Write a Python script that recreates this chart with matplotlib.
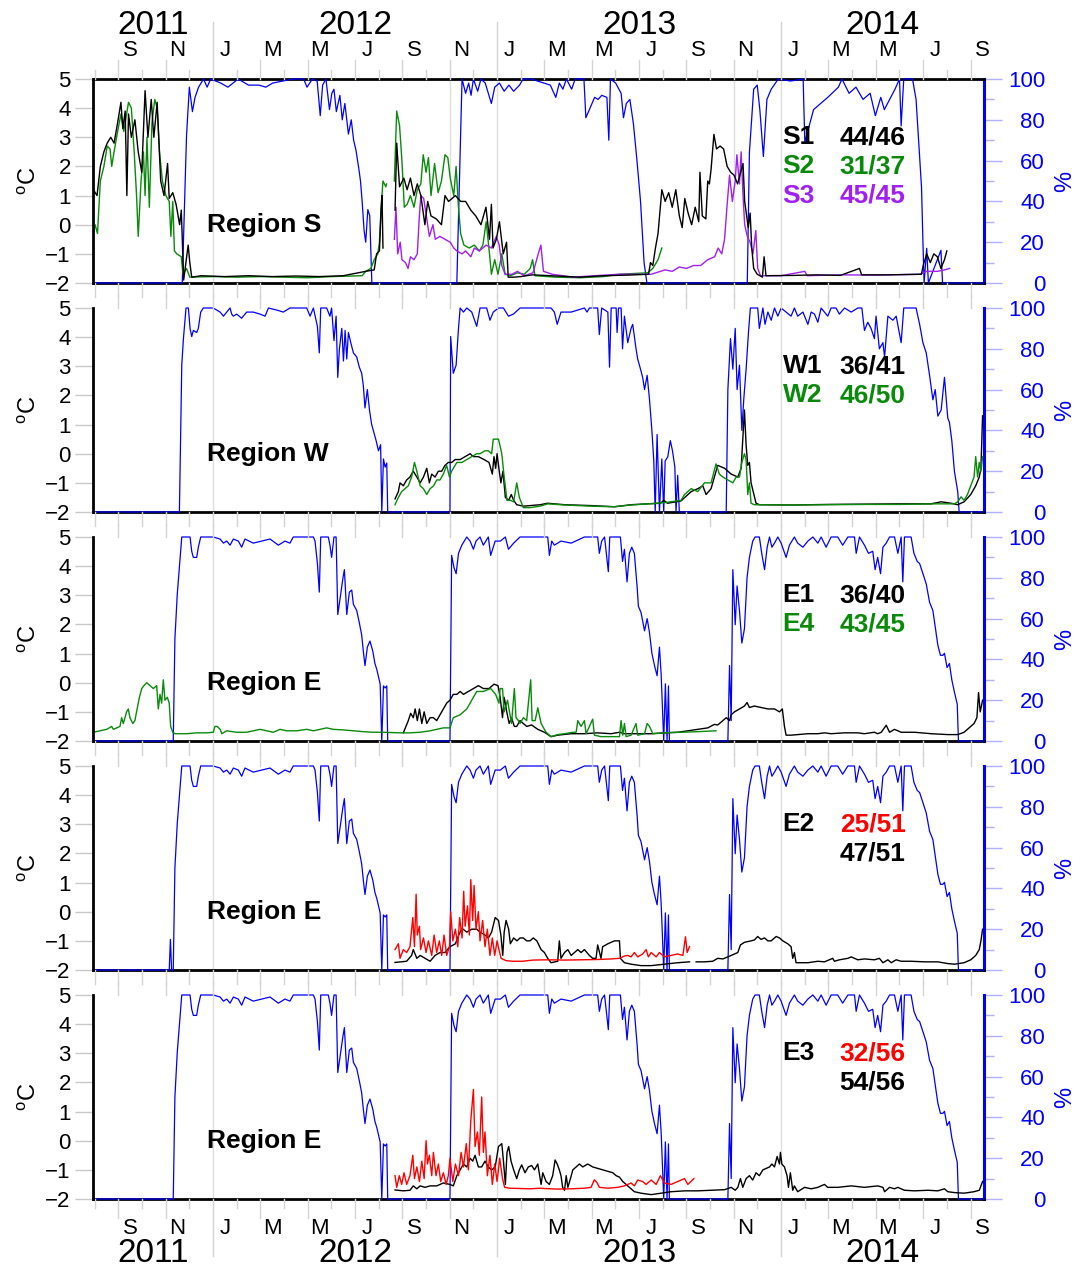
import numpy as np
import matplotlib
matplotlib.use('Agg')
import matplotlib.pyplot as plt
from matplotlib.transforms import blended_transform_factory

plt.rcParams['font.family'] = ['Liberation Sans', 'DejaVu Sans']
plt.rcParams['mathtext.fontset'] = 'custom'
plt.rcParams['mathtext.rm'] = 'Liberation Sans'

# time is in months since 1 Jan 2011 (12 = Jan 2012, 24 = Jan 2013, ...)
T_START, T_END = 6.93, 44.57
month_letters = ['J', 'F', 'M', 'A', 'M', 'J', 'J', 'A', 'S', 'O', 'N', 'D']
year_labels = ['2011', '2012', '2013', '2014']
year_centers = [9.47, 18.0, 30.0, 40.3]
nan = float('nan')

# ---- ice concentration (%) ----
ice_s = [(6.93, 0), (10.70, 0), (10.88, 72), (11.00, 96), (11.13, 84), (11.24, 91), (11.39, 96),
         (11.60, 100), (11.75, 96), (11.90, 100), (12.33, 98), (12.63, 96), (13.06, 100), (13.50, 97),
         (13.94, 97), (14.23, 96), (14.52, 98), (14.95, 99), (15.40, 100), (15.83, 100), (15.97, 96),
         (16.20, 100), (16.40, 99), (16.53, 82), (16.63, 97), (16.77, 100), (16.92, 85), (17.02, 93),
         (17.11, 95), (17.21, 84), (17.36, 92), (17.46, 80), (17.57, 88), (17.72, 73), (17.84, 80),
         (17.94, 70), (18.04, 65), (18.16, 56), (18.23, 50), (18.30, 40), (18.38, 26), (18.45, 20),
         (18.54, 36), (18.62, 33), (18.71, 0), (22.30, 0), (22.52, 100), (22.67, 93), (22.80, 98),
         (22.90, 92), (23.00, 100), (23.18, 94), (23.32, 100), (23.50, 98), (23.76, 88), (23.90, 96),
         (24.10, 98), (24.30, 94), (24.50, 97), (24.70, 94), (24.95, 97), (25.10, 100), (25.44, 100),
         (26.25, 97), (26.48, 91), (26.63, 98), (26.78, 95), (26.93, 100), (27.15, 95), (27.30, 100),
         (27.67, 100), (27.75, 81), (27.90, 85), (28.12, 91), (28.27, 90), (28.42, 92), (28.64, 91),
         (28.72, 70), (28.79, 100), (29.01, 98), (29.24, 93), (29.34, 81), (29.46, 88), (29.61, 90),
         (29.76, 78), (29.91, 60), (30.06, 40), (30.21, 10), (30.33, 0), (34.57, 0), (34.66, 64),
         (34.84, 95), (34.99, 97), (35.10, 85), (35.25, 62), (35.40, 90), (35.58, 95), (35.88, 100),
         (36.40, 99), (36.93, 100), (37.00, 69), (37.37, 85), (37.97, 91), (38.42, 96), (38.57, 100),
         (38.87, 93), (39.16, 96), (39.46, 90), (39.76, 93), (39.98, 82), (40.21, 91), (40.36, 85),
         (40.81, 95), (41.00, 100), (41.07, 77), (41.18, 100), (41.55, 100), (41.70, 90), (41.93, 47),
         (42.00, 16), (42.04, 0), (42.15, 17), (42.22, 0), (42.75, 16), (42.82, 0), (44.57, 0)]

ice_w = [(6.93, 0), (10.58, 0), (10.68, 72), (10.75, 85), (10.86, 100), (10.96, 100), (11.03, 90),
         (11.10, 86), (11.17, 89), (11.31, 88), (11.38, 90), (11.48, 98), (11.59, 100), (12.01, 100),
         (12.30, 98), (12.44, 96), (12.58, 98), (12.72, 100), (12.79, 97), (12.86, 96), (13.00, 97),
         (13.21, 95), (13.42, 98), (13.70, 98), (13.99, 97), (14.20, 96), (14.34, 100), (14.69, 99),
         (14.97, 98), (15.25, 100), (15.96, 100), (16.10, 96), (16.24, 100), (16.41, 91), (16.49, 78),
         (16.55, 100), (16.80, 100), (16.94, 96), (17.01, 100), (17.11, 84), (17.20, 96), (17.27, 66),
         (17.34, 80), (17.44, 90), (17.51, 74), (17.58, 89), (17.65, 75), (17.72, 88), (17.82, 83),
         (17.93, 78), (18.07, 76), (18.18, 71), (18.28, 68), (18.35, 62), (18.42, 51), (18.52, 60),
         (18.61, 50), (18.70, 43), (18.77, 40), (18.89, 35), (18.99, 30), (19.08, 33), (19.13, 0),
         (19.20, 26), (19.27, 22), (19.34, 24), (19.38, 0), (22.01, 0), (22.04, 86), (22.15, 68),
         (22.27, 72), (22.37, 90), (22.44, 100), (22.58, 98), (22.72, 100), (22.93, 98), (23.14, 91),
         (23.28, 100), (23.56, 100), (23.70, 94), (23.84, 98), (24.06, 100), (24.27, 100), (24.48, 96),
         (24.69, 97), (24.97, 100), (25.44, 100), (26.28, 100), (26.42, 98), (26.54, 92), (26.70, 98),
         (27.13, 98), (27.69, 100), (27.80, 98), (27.90, 100), (28.25, 100), (28.32, 87), (28.42, 100),
         (28.68, 98), (28.75, 71), (28.82, 100), (29.03, 100), (29.07, 88), (29.13, 100), (29.24, 100),
         (29.30, 80), (29.38, 96), (29.52, 83), (29.66, 90), (29.73, 92), (29.87, 80), (29.94, 75),
         (30.06, 70), (30.15, 66), (30.23, 60), (30.34, 67), (30.44, 55), (30.54, 40), (30.62, 25),
         (30.68, 0), (30.76, 38), (30.86, 0), (30.96, 26), (31.04, 0), (31.10, 25), (31.21, 27),
         (31.32, 35), (31.41, 30), (31.51, 22), (31.56, 0), (31.63, 18), (31.70, 0), (33.68, 0),
         (33.75, 60), (33.86, 85), (33.96, 70), (34.06, 90), (34.14, 60), (34.24, 72), (34.34, 40),
         (34.42, 55), (34.52, 70), (34.62, 88), (34.70, 100), (35.01, 100), (35.08, 90), (35.23, 100),
         (35.32, 92), (35.44, 98), (35.58, 94), (35.72, 100), (35.86, 96), (36.00, 100), (36.21, 98),
         (36.42, 96), (36.56, 100), (36.70, 96), (36.92, 98), (37.13, 92), (37.27, 98), (37.41, 97),
         (37.55, 93), (37.69, 100), (37.83, 98), (37.97, 96), (38.11, 100), (38.32, 100), (38.46, 97),
         (38.68, 100), (38.96, 98), (39.24, 100), (39.41, 100), (39.52, 89), (39.66, 93), (39.80, 90),
         (39.94, 85), (40.01, 96), (40.15, 80), (40.30, 83), (40.37, 76), (40.51, 96), (40.72, 94),
         (40.86, 96), (41.07, 83), (41.18, 100), (41.70, 100), (41.85, 92), (41.99, 83), (42.13, 78),
         (42.27, 67), (42.41, 55), (42.51, 60), (42.62, 47), (42.76, 50), (42.90, 66), (43.04, 46),
         (43.11, 44), (43.21, 35), (43.32, 20), (43.46, 10), (43.52, 0), (44.57, 0)]

ice_e = [(6.93, 0), (10.32, 0), (10.39, 50), (10.49, 72), (10.58, 85), (10.68, 100), (11.03, 100),
         (11.10, 93), (11.17, 90), (11.31, 90), (11.38, 95), (11.48, 100), (12.01, 100), (12.30, 99),
         (12.44, 97), (12.58, 98), (12.72, 96), (12.86, 99), (13.07, 98), (13.21, 95), (13.35, 99),
         (13.70, 97), (14.06, 98), (14.41, 99), (14.76, 96), (15.04, 98), (15.25, 97), (15.39, 100),
         (16.24, 100), (16.31, 98), (16.41, 87), (16.49, 73), (16.55, 100), (16.87, 100), (16.94, 96),
         (17.01, 90), (17.11, 100), (17.20, 100), (17.27, 62), (17.37, 70), (17.49, 80), (17.55, 84),
         (17.65, 62), (17.76, 73), (17.86, 74), (17.93, 67), (18.07, 64), (18.18, 58), (18.28, 52),
         (18.35, 44), (18.42, 37), (18.52, 46), (18.63, 49), (18.75, 44), (18.84, 38), (18.92, 35),
         (19.06, 28), (19.13, 0), (19.20, 27), (19.27, 26), (19.34, 27), (19.38, 0), (22.01, 0),
         (22.08, 91), (22.18, 85), (22.27, 82), (22.37, 92), (22.51, 96), (22.72, 100), (22.86, 98),
         (23.00, 94), (23.11, 98), (23.28, 100), (23.42, 96), (23.63, 100), (23.73, 91), (23.92, 98),
         (24.14, 98), (24.35, 100), (24.48, 94), (24.70, 97), (24.97, 100), (26.14, 100), (26.21, 91),
         (26.31, 98), (26.42, 96), (26.70, 98), (27.13, 97), (27.69, 100), (28.25, 100), (28.32, 92),
         (28.42, 98), (28.54, 100), (28.70, 83), (28.76, 100), (29.21, 100), (29.30, 88), (29.38, 94),
         (29.49, 78), (29.59, 92), (29.69, 95), (29.80, 92), (29.92, 75), (29.97, 66), (30.08, 63),
         (30.23, 54), (30.34, 60), (30.44, 53), (30.54, 43), (30.65, 37), (30.76, 32), (30.86, 46),
         (30.93, 33), (31.04, 0), (31.11, 28), (31.18, 0), (31.24, 27), (31.28, 0), (33.75, 0),
         (33.82, 37), (33.89, 10), (33.96, 84), (34.06, 57), (34.14, 76), (34.24, 64), (34.34, 48),
         (34.45, 55), (34.56, 80), (34.66, 90), (34.80, 98), (34.90, 100), (35.08, 100), (35.18, 92),
         (35.30, 84), (35.41, 95), (35.51, 100), (35.61, 95), (35.72, 97), (35.86, 100), (36.00, 97),
         (36.21, 90), (36.35, 96), (36.56, 100), (36.70, 97), (36.92, 95), (37.13, 98), (37.34, 100),
         (37.55, 97), (37.69, 100), (37.90, 95), (38.11, 100), (38.39, 100), (38.60, 96), (38.82, 100),
         (39.10, 100), (39.17, 92), (39.31, 100), (39.52, 96), (39.69, 92), (39.87, 93), (39.97, 84),
         (40.08, 90), (40.20, 82), (40.30, 95), (40.44, 97), (40.58, 100), (40.79, 100), (40.93, 92),
         (41.07, 100), (41.14, 78), (41.21, 100), (41.49, 100), (41.61, 92), (41.75, 88), (41.85, 87),
         (41.99, 82), (42.13, 77), (42.27, 68), (42.41, 64), (42.51, 56), (42.62, 47), (42.73, 42),
         (42.83, 42), (42.90, 43), (43.01, 36), (43.11, 38), (43.21, 30), (43.32, 24), (43.44, 18),
         (43.49, 0), (44.57, 0)]

# short ice blip seen only in the E2 panel
ice_e2_blip = [(10.15, 0), (10.20, 15), (10.25, 0)]

# ---- bottom temperatures (deg C) ----
s1 = [(6.95, 1.2), (7.10, 1.0), (7.24, 2.0), (7.39, 2.5), (7.53, 2.8), (7.68, 3.0), (7.82, 2.8),
      (7.97, 3.5), (8.11, 4.2), (8.19, 3.3), (8.29, 3.9), (8.36, 1.0), (8.43, 3.8), (8.55, 3.0),
      (8.70, 3.6), (8.84, 2.5), (8.99, 1.8), (9.13, 4.6), (9.25, 3.0), (9.39, 4.3), (9.50, 3.0),
      (9.64, 4.2), (9.79, 1.5), (9.93, 1.0), (10.08, 2.1), (10.15, 0.9), (10.30, 1.1), (10.44, 0.7),
      (10.59, 0.0), (10.66, 0.5), (10.76, -1.9), (10.95, -0.7), (11.02, -1.3), (11.10, -1.8),
      (11.50, -1.75), (12.50, -1.78), (13.50, -1.75), (14.50, -1.78), (15.50, -1.76), (16.50, -1.78),
      (17.50, -1.75), (18.45, -1.6), (18.81, -1.55), (18.91, -1.0), (19.03, -0.9), (19.10, 0.5),
      (19.14, 1.0), (19.18, -0.8), (19.40, nan), (19.69, 0.5), (19.76, 2.8), (19.88, 1.3), (20.06, 1.6),
      (20.20, 1.2), (20.34, 1.6), (20.49, 1.0), (20.63, 1.4), (20.78, 1.0), (20.95, 0.0), (21.07, 0.8),
      (21.21, 0.3), (21.43, 0.2), (21.65, 0.0), (21.80, 1.0), (21.95, 0.8), (22.10, 0.9), (22.24, 1.0),
      (22.46, 0.8), (22.67, 0.8), (22.89, 0.5), (23.10, 0.3), (23.32, 0.0), (23.53, 0.6), (23.68, -0.5),
      (23.76, 0.7), (23.83, -0.8), (23.97, -0.5), (24.10, 0.1), (24.26, -1.0), (24.40, -0.6),
      (24.47, -1.8), (24.70, -1.8), (25.00, -1.78), (25.50, -1.72), (26.50, -1.76), (27.50, -1.8),
      (28.50, -1.75), (29.50, -1.73), (30.40, -1.7), (30.48, -1.3), (30.58, -1.4), (30.69, -0.8),
      (30.80, -0.3), (30.96, 1.2), (31.10, 0.8), (31.25, 1.1), (31.40, 0.6), (31.55, 1.2), (31.70, 0.3),
      (31.82, -0.1), (31.93, 0.9), (32.07, 0.4), (32.22, 0.0), (32.37, 0.6), (32.52, 0.1), (32.57, 1.8),
      (32.67, 0.3), (32.82, 0.2), (32.90, 1.5), (32.97, 1.4), (33.04, 1.9), (33.16, 3.1), (33.27, 2.6),
      (33.42, 2.7), (33.57, 2.6), (33.72, 2.0), (33.87, 1.8), (34.01, 1.7), (34.16, 1.4), (34.39, 2.1),
      (34.46, 0.8), (34.61, -0.1), (34.69, 0.4), (34.76, -0.8), (34.84, -1.5), (34.99, -1.7),
      (35.21, -1.8), (35.28, -1.1), (35.36, -1.75), (36.50, -1.74), (37.50, -1.72), (38.50, -1.74),
      (39.31, -1.5), (39.40, -1.72), (40.50, -1.72), (41.93, -1.7), (42.00, -1.4), (42.15, -1.0),
      (42.30, -1.3), (42.45, -1.0), (42.60, -1.1), (42.75, -1.5), (42.90, -1.2), (43.00, -0.9)]

s2 = [(6.95, -0.3), (7.02, 0.0), (7.12, -0.3), (7.24, 1.5), (7.39, 2.0), (7.53, 2.7), (7.65, 2.6),
      (7.72, 2.0), (7.82, 2.5), (7.97, 3.2), (8.11, 3.8), (8.23, 3.2), (8.43, 4.2), (8.55, 4.0),
      (8.67, 2.5), (8.77, 1.0), (8.84, -0.4), (8.96, 1.5), (9.06, 2.5), (9.13, 1.0), (9.21, 3.0),
      (9.31, 0.6), (9.42, 3.5), (9.54, 4.3), (9.64, 4.0), (9.74, 2.5), (9.86, 1.5), (10.01, 1.0),
      (10.15, 0.8), (10.22, -0.4), (10.30, 0.8), (10.37, -0.9), (10.47, -1.0), (10.66, -1.1),
      (10.73, -1.7), (10.88, -1.5), (11.02, -1.8), (12.00, -1.78), (13.00, -1.8), (14.00, -1.78),
      (15.00, -1.8), (16.00, -1.82), (17.00, -1.78), (18.30, -1.75), (18.45, -1.6), (18.67, -1.5),
      (18.81, -1.2), (18.96, -1.0), (19.03, -0.6), (19.10, 0.6), (19.18, 1.5), (19.30, 1.3),
      (19.33, 1.4), (19.36, nan), (19.66, 1.5), (19.76, 3.9), (19.88, 3.4), (19.98, 2.2), (20.08, 0.6),
      (20.20, 0.7), (20.34, 1.0), (20.49, 0.6), (20.63, 1.2), (20.78, 1.4), (20.88, 2.4), (21.00, 1.8),
      (21.10, 2.3), (21.21, 1.0), (21.36, 2.1), (21.51, 1.1), (21.65, 1.5), (21.80, 2.4), (21.92, 2.3),
      (22.02, 1.6), (22.17, 1.0), (22.27, 2.0), (22.36, 0.7), (22.46, -0.3), (22.60, -0.7),
      (22.82, -0.8), (23.04, -0.7), (23.25, -0.9), (23.40, -0.7), (23.54, 0.1), (23.68, -1.0),
      (23.76, -1.7), (23.90, -1.2), (24.04, -1.7), (24.20, -1.0), (24.34, -1.7), (24.56, -1.75),
      (24.86, -1.65), (25.15, -1.7), (25.40, -1.5), (25.50, -1.2), (25.60, -1.75), (26.50, -1.8),
      (27.50, -1.82), (28.50, -1.78), (29.16, -1.7), (30.36, -1.65), (30.58, -1.5), (30.80, -1.2),
      (30.96, -0.8)]

s3 = [(19.66, -0.5), (19.73, 0.6), (19.80, -1.0), (19.91, -0.6), (19.98, -1.2), (20.13, -1.3),
      (20.24, -1.5), (20.34, -1.1), (20.49, -1.2), (20.63, -1.0), (20.71, 0.2), (20.78, 1.0),
      (20.90, 0.9), (21.03, 0.2), (21.14, -0.4), (21.29, 0.0), (21.39, -0.5), (21.58, -0.4),
      (21.80, -0.5), (22.02, -0.6), (22.17, -0.8), (22.30, -0.9), (22.52, -1.0), (22.67, -0.9),
      (22.89, -1.1), (23.04, -0.8), (23.25, -0.9), (23.54, -0.7), (23.76, -0.8), (23.97, -0.4),
      (24.09, -0.7), (24.20, -1.4), (24.34, -1.7), (24.63, -1.7), (24.86, -1.6), (25.15, -1.75),
      (25.52, -1.65), (25.74, -1.0), (25.85, -0.7), (25.96, -1.6), (26.33, -1.7), (27.22, -1.8),
      (28.12, -1.75), (29.16, -1.7), (30.51, -1.7), (31.10, -1.55), (31.40, -1.6), (31.70, -1.45),
      (32.00, -1.5), (32.30, -1.4), (32.60, -1.4), (32.90, -1.2), (33.19, -1.1), (33.34, -0.8),
      (33.49, -1.0), (33.61, -0.5), (33.72, 0.7), (33.82, 1.7), (33.94, 0.8), (34.06, 1.5),
      (34.13, 2.4), (34.24, 1.4), (34.31, 2.5), (34.39, 1.0), (34.46, 0.0), (34.57, -0.4),
      (34.69, -0.6), (34.81, -1.0), (34.93, -0.2), (35.01, -1.5), (35.13, -1.75), (36.00, -1.75),
      (37.00, -1.6), (37.10, -1.75), (38.50, -1.72), (40.00, -1.73), (41.85, -1.7), (42.15, -1.6),
      (42.60, -1.6), (42.90, -1.55), (43.12, -1.5)]

w1 = [(19.69, -1.55), (19.83, -1.3), (19.90, -1.0), (20.04, -1.1), (20.18, -0.9), (20.32, -0.8),
      (20.46, -0.6), (20.61, -0.8), (20.75, -1.0), (20.89, -0.8), (21.03, -0.5), (21.14, -1.0),
      (21.24, -0.7), (21.38, -0.8), (21.52, -0.6), (21.66, -0.6), (21.80, -0.4), (21.94, -0.3),
      (22.08, -0.3), (22.23, -0.2), (22.44, -0.2), (22.65, -0.1), (22.86, 0.0), (23.00, -0.1),
      (23.21, -0.1), (23.45, -0.2), (23.66, -0.3), (23.80, -0.7), (23.87, -0.1), (23.94, -0.5),
      (24.00, 0.0), (24.06, -0.4), (24.16, -1.0), (24.25, -0.6), (24.35, -1.5), (24.49, -1.6),
      (24.60, -1.4), (24.70, -1.6), (24.83, -1.75), (25.11, -1.8), (25.82, -1.75), (26.14, -1.7),
      (26.85, -1.75), (27.97, -1.78), (28.96, -1.82), (29.66, -1.75), (30.37, -1.72), (30.90, -1.7),
      (31.04, -1.6), (31.20, -1.7), (31.77, -1.62), (32.20, -1.3), (32.48, -1.2), (32.69, -1.1),
      (32.83, -1.4), (33.04, -1.2), (33.32, -0.4), (33.61, -0.5), (33.89, -0.7), (34.17, -0.8),
      (34.31, -0.5), (34.45, 1.5), (34.52, 0.3), (34.59, -0.4), (34.66, -0.3), (34.73, -1.0),
      (34.85, -1.4), (34.94, -1.7), (35.08, -1.75), (36.50, -1.76), (38.00, -1.74), (39.50, -1.73),
      (41.00, -1.72), (42.34, -1.72), (42.76, -1.65), (43.18, -1.7), (43.46, -1.75), (43.73, -1.65),
      (44.01, -1.4), (44.22, -1.1), (44.37, -0.8), (44.44, -0.5), (44.51, 1.3)]

w2 = [(19.69, -1.75), (19.83, -1.5), (19.97, -1.3), (20.11, -1.2), (20.25, -1.1), (20.39, -0.8),
      (20.51, -0.3), (20.61, -0.6), (20.75, -1.1), (20.89, -1.2), (21.03, -1.4), (21.17, -1.2),
      (21.32, -1.1), (21.45, -0.9), (21.59, -0.9), (21.73, -0.7), (21.87, -0.4), (21.99, -0.8),
      (22.08, -0.6), (22.30, -0.3), (22.51, -0.3), (22.72, -0.2), (22.93, -0.1), (23.14, 0.0),
      (23.28, 0.0), (23.49, 0.1), (23.63, 0.1), (23.77, 0.0), (23.84, 0.5), (24.06, 0.5), (24.20, 0.0),
      (24.30, -0.8), (24.42, -1.6), (24.56, -1.6), (24.70, -1.65), (24.83, -1.0), (24.94, -1.5),
      (25.11, -1.85), (25.39, -1.85), (25.82, -1.8), (26.14, -1.72), (26.85, -1.76), (27.97, -1.8),
      (28.96, -1.82), (29.66, -1.76), (30.37, -1.72), (31.07, -1.68), (31.77, -1.6), (31.92, -1.4),
      (32.20, -1.2), (32.48, -1.3), (32.76, -1.0), (33.04, -1.0), (33.25, -0.35), (33.39, -0.7),
      (33.54, -0.8), (33.75, -0.9), (33.96, -1.0), (34.10, -0.8), (34.24, -0.8), (34.34, -0.3),
      (34.45, 0.0), (34.52, -0.2), (34.59, -1.4), (34.66, -1.0), (34.73, -1.7), (34.87, -1.75),
      (36.50, -1.76), (38.00, -1.75), (39.50, -1.74), (41.00, -1.74), (42.50, -1.72), (43.32, -1.72),
      (43.46, -1.65), (43.60, -1.48), (43.73, -1.6), (43.87, -1.4), (44.01, -1.1), (44.15, -0.8),
      (44.22, -0.1), (44.30, -0.8), (44.37, -0.3), (44.44, -0.6), (44.51, -0.1)]

e1 = [(20.04, -1.72), (20.25, -1.3), (20.35, -1.05), (20.46, -1.2), (20.54, -0.9), (20.63, -1.3),
      (20.72, -0.9), (20.82, -1.4), (20.92, -1.0), (21.03, -1.4), (21.17, -1.2), (21.31, -1.2),
      (21.45, -1.3), (21.59, -1.1), (21.73, -0.9), (21.87, -0.7), (22.01, -0.6), (22.15, -0.4),
      (22.30, -0.4), (22.44, -0.3), (22.58, -0.4), (22.79, -0.3), (23.00, -0.2), (23.21, -0.1),
      (23.42, -0.2), (23.66, -0.2), (23.87, -0.05), (24.04, -0.1), (24.13, -0.5), (24.23, -1.2),
      (24.30, -0.5), (24.41, -1.0), (24.51, -1.4), (24.61, -1.2), (24.73, -1.5), (24.83, -1.5),
      (24.97, -1.3), (25.11, -1.4), (25.25, -1.5), (25.46, -1.45), (25.72, -1.6), (26.00, -1.7),
      (26.28, -1.85), (26.56, -1.8), (27.13, -1.75), (27.69, -1.75), (28.25, -1.72), (28.82, -1.75),
      (29.17, -1.7), (29.38, -1.75), (30.51, -1.75), (31.07, -1.72), (31.63, -1.7), (32.06, -1.65),
      (32.48, -1.6), (32.90, -1.55), (33.18, -1.43), (33.32, -1.45), (33.54, -1.3), (33.68, -1.2),
      (33.82, -1.3), (33.89, -1.1), (34.03, -1.0), (34.24, -0.9), (34.45, -0.8), (34.56, -0.68),
      (34.66, -0.85), (34.87, -0.8), (35.15, -0.85), (35.44, -0.9), (35.72, -0.9), (35.93, -1.0),
      (36.05, -0.9), (36.14, -1.5), (36.21, -1.8), (36.42, -1.8), (36.70, -1.78), (37.13, -1.75),
      (37.55, -1.75), (37.83, -1.72), (38.11, -1.75), (38.68, -1.72), (39.24, -1.72), (39.52, -1.75),
      (39.94, -1.7), (40.08, -1.75), (40.23, -1.7), (40.44, -1.46), (40.58, -1.7), (40.79, -1.6),
      (41.07, -1.7), (41.63, -1.7), (42.34, -1.75), (43.04, -1.78), (43.46, -1.78), (43.73, -1.7),
      (44.01, -1.5), (44.15, -1.4), (44.27, -1.2), (44.34, -0.34), (44.41, -1.0), (44.51, -0.6)]

e4 = [(6.94, -1.7), (7.23, -1.65), (7.51, -1.6), (7.72, -1.5), (7.79, -1.6), (8.07, -1.5), (8.14, -1.2),
      (8.21, -1.4), (8.35, -1.0), (8.42, -0.9), (8.49, -1.2), (8.61, -1.4), (8.70, -1.3), (8.77, -1.0),
      (8.89, -0.5), (8.99, -0.2), (9.08, -0.1), (9.20, 0.0), (9.34, -0.1), (9.48, -0.2), (9.62, -0.1),
      (9.69, -0.9), (9.76, -0.4), (9.83, -0.7), (9.90, 0.1), (9.97, -0.6), (10.07, -0.5), (10.15, -0.7),
      (10.21, -1.5), (10.30, -1.7), (10.39, -1.75), (10.89, -1.75), (11.31, -1.72), (11.73, -1.72),
      (12.01, -1.7), (12.08, -1.5), (12.18, -1.5), (12.30, -1.6), (12.37, -1.75), (12.58, -1.65),
      (13.00, -1.7), (13.42, -1.7), (13.99, -1.6), (14.27, -1.65), (14.55, -1.7), (14.83, -1.6),
      (15.11, -1.65), (15.54, -1.65), (15.96, -1.6), (16.24, -1.65), (16.52, -1.6), (16.80, -1.55),
      (17.08, -1.6), (17.51, -1.62), (17.93, -1.65), (18.35, -1.68), (18.77, -1.7), (19.20, -1.7),
      (19.90, -1.72), (20.32, -1.72), (20.75, -1.7), (21.17, -1.65), (21.45, -1.6), (21.73, -1.55),
      (22.01, -1.55), (22.15, -1.2), (22.44, -1.1), (22.72, -0.9), (22.93, -0.6), (23.14, -0.3),
      (23.42, -0.3), (23.73, -0.2), (23.94, -0.4), (24.08, -0.7), (24.13, -0.2), (24.23, -0.2),
      (24.30, -1.0), (24.44, -0.6), (24.61, -1.4), (24.73, -0.2), (24.80, -1.2), (24.90, -1.3),
      (24.97, -1.4), (25.11, -1.2), (25.25, -1.3), (25.42, 0.1), (25.48, -1.3), (25.61, -1.3),
      (25.72, -0.86), (25.86, -1.4), (26.07, -1.7), (26.28, -1.85), (26.56, -1.78), (26.85, -1.75),
      (27.20, -1.7), (27.34, -1.7), (27.41, -1.3), (27.55, -1.5), (27.69, -1.3), (27.76, -1.75),
      (28.04, -1.25), (28.11, -1.8), (28.39, -1.85), (28.82, -1.85), (29.17, -1.85), (29.24, -1.3),
      (29.31, -1.8), (29.38, -1.4), (29.45, -1.85), (29.66, -1.8), (29.87, -1.4), (29.94, -1.8),
      (30.23, -1.75), (30.34, -1.4), (30.44, -1.5), (30.58, -1.75), (31.07, -1.72), (31.77, -1.7),
      (32.48, -1.68), (33.25, -1.65)]

e2_red = [(19.69, -1.3), (19.83, -1.1), (19.90, -1.6), (20.04, -1.3), (20.18, -1.4), (20.32, -1.2),
          (20.44, -0.2), (20.51, -1.2), (20.58, 0.6), (20.63, -0.8), (20.72, -0.5), (20.77, -1.3),
          (20.89, -0.9), (21.00, -1.4), (21.10, -1.0), (21.24, -1.5), (21.34, -0.8), (21.45, -1.4),
          (21.56, -1.0), (21.66, -1.5), (21.76, -0.8), (21.87, -1.5), (21.99, -1.2), (22.04, 0.0),
          (22.13, -1.0), (22.24, -0.6), (22.34, -1.2), (22.42, -0.2), (22.52, -0.9), (22.59, 0.7),
          (22.65, -0.5), (22.75, 0.2), (22.83, -0.8), (22.89, 1.1), (22.97, -0.3), (23.03, 0.9),
          (23.11, -0.6), (23.21, 0.0), (23.28, -1.0), (23.39, -0.3), (23.49, -1.2), (23.59, -0.6),
          (23.70, -1.5), (23.80, -0.9), (23.90, -1.5), (24.00, -1.0), (24.08, -1.3), (24.17, -1.6),
          (24.38, -1.68), (24.66, -1.7), (25.08, -1.7), (25.51, -1.66), (26.14, -1.65), (26.85, -1.66),
          (27.55, -1.65), (28.25, -1.64), (28.82, -1.62), (29.17, -1.6), (29.38, -1.52), (29.52, -1.5),
          (29.66, -1.55), (29.80, -1.4), (29.94, -1.55), (30.15, -1.45), (30.30, -1.3), (30.39, -1.55),
          (30.51, -1.4), (30.72, -1.55), (30.86, -1.4), (31.07, -1.55), (31.35, -1.5), (31.63, -1.45),
          (31.85, -1.5), (31.96, -0.86), (32.03, -1.4), (32.13, -1.2)]

e2_black = [(19.69, -1.74), (20.18, -1.7), (20.39, -1.5), (20.46, -1.3), (20.61, -1.6), (20.75, -1.5),
            (20.96, -1.6), (21.17, -1.7), (21.38, -1.5), (21.59, -1.4), (21.80, -1.4), (22.01, -1.2),
            (22.24, -1.1), (22.38, -0.8), (22.52, -0.57), (22.72, -0.7), (22.93, -0.6), (23.14, -0.6),
            (23.28, -0.7), (23.49, -0.8), (23.63, -0.9), (23.77, -0.7), (23.92, -0.2), (24.06, -0.3),
            (24.16, -0.8), (24.24, -1.5), (24.30, -0.7), (24.38, -0.3), (24.49, -0.6), (24.56, -1.1),
            (24.70, -0.9), (24.84, -1.0), (24.97, -0.9), (25.11, -0.9), (25.25, -1.0), (25.39, -1.0),
            (25.53, -0.9), (25.68, -1.0), (25.80, -1.2), (25.86, -1.3), (26.00, -1.4), (26.14, -1.6),
            (26.28, -1.75), (26.56, -1.7), (26.63, -1.0), (26.70, -1.6), (26.85, -1.4), (26.99, -1.3),
            (27.13, -1.5), (27.27, -1.4), (27.41, -1.3), (27.55, -1.4), (27.69, -1.3), (27.90, -1.5),
            (28.04, -1.6), (28.18, -1.6), (28.25, -1.14), (28.39, -1.6), (28.46, -1.2), (28.68, -1.1),
            (28.96, -1.0), (29.17, -1.0), (29.21, -1.6), (29.38, -1.75), (29.66, -1.8), (30.08, -1.85),
            (30.51, -1.85), (31.07, -1.8), (31.63, -1.75), (32.13, -1.72), (32.20, nan), (32.41, -1.72),
            (32.76, -1.72), (33.11, -1.7), (33.32, -1.6), (33.54, -1.62), (33.75, -1.55), (33.89, -1.5),
            (34.03, -1.45), (34.17, -1.4), (34.28, -1.14), (34.45, -1.05), (34.73, -1.0), (34.87, -0.97),
            (35.01, -0.85), (35.15, -0.95), (35.30, -0.9), (35.44, -1.0), (35.58, -1.0), (35.79, -0.85),
            (35.93, -0.9), (36.07, -1.0), (36.28, -1.1), (36.42, -1.2), (36.49, -1.6), (36.56, -1.4),
            (36.63, -1.75), (36.85, -1.75), (37.13, -1.75), (37.55, -1.7), (37.83, -1.72), (38.18, -1.6),
            (38.25, -1.7), (38.46, -1.65), (38.82, -1.6), (38.96, -1.55), (39.24, -1.65), (39.52, -1.62),
            (39.94, -1.65), (40.15, -1.6), (40.30, -1.75), (40.51, -1.65), (40.65, -1.75), (40.86, -1.65),
            (41.07, -1.7), (41.49, -1.7), (42.06, -1.72), (42.62, -1.72), (43.04, -1.78), (43.32, -1.8),
            (43.73, -1.75), (44.01, -1.65), (44.22, -1.5), (44.37, -1.3), (44.44, -1.0), (44.51, -0.6)]

e3_red = [(19.69, -1.2), (19.76, -1.6), (19.87, -1.2), (19.97, -1.5), (20.07, -1.1), (20.18, -1.5),
          (20.32, -1.2), (20.44, -0.5), (20.51, -1.3), (20.61, -0.9), (20.72, -1.4), (20.82, -0.7),
          (20.92, -1.3), (21.00, 0.0), (21.06, -0.8), (21.14, -0.5), (21.24, -1.2), (21.31, -0.4),
          (21.42, -1.2), (21.52, -0.8), (21.62, -1.4), (21.73, -1.1), (21.85, -1.5), (21.94, -1.2),
          (22.01, -0.6), (22.13, -1.4), (22.24, -0.8), (22.37, -1.2), (22.48, -0.4), (22.58, -0.9),
          (22.70, -0.1), (22.79, -1.0), (22.89, 0.7), (23.00, 1.76), (23.07, -0.2), (23.17, 0.3),
          (23.25, -0.5), (23.35, 1.5), (23.42, -0.4), (23.49, 0.3), (23.59, -1.2), (23.70, -0.5),
          (23.80, -1.5), (23.90, -0.8), (24.00, -1.4), (24.11, -0.6), (24.23, -1.3), (24.32, -1.6),
          (24.54, -1.63), (24.97, -1.64), (25.39, -1.65), (25.82, -1.63), (26.00, -1.64), (26.56, -1.66),
          (27.13, -1.65), (27.69, -1.63), (27.97, -1.6), (28.11, -1.34), (28.23, -1.45), (28.32, -1.6),
          (28.68, -1.63), (29.10, -1.6), (29.38, -1.55), (29.66, -1.45), (29.80, -1.55), (29.94, -1.35),
          (30.15, -1.4), (30.30, -1.5), (30.51, -1.35), (30.72, -1.5), (30.90, -1.2), (31.07, -1.45),
          (31.35, -1.5), (31.63, -1.4), (31.92, -1.3), (32.06, -1.5), (32.31, -1.3)]

e3_black = [(19.69, -1.69), (20.04, -1.72), (20.32, -1.7), (20.46, -1.55), (20.61, -1.65), (20.75, -1.55),
            (20.96, -1.6), (21.17, -1.55), (21.45, -1.55), (21.73, -1.45), (22.01, -1.5), (22.15, -1.55),
            (22.30, -1.2), (22.44, -1.0), (22.58, -0.8), (22.72, -0.9), (22.86, -0.6), (22.97, -0.7),
            (23.07, -0.5), (23.21, -0.9), (23.35, -0.9), (23.49, -0.7), (23.63, -0.9), (23.77, -1.0),
            (23.92, -0.9), (24.06, -0.2), (24.20, -0.1), (24.27, -0.7), (24.35, -1.5), (24.42, -0.4),
            (24.49, -0.2), (24.59, -0.7), (24.70, -1.0), (24.83, -1.3), (24.94, -1.0), (25.04, -0.83),
            (25.18, -1.1), (25.32, -0.9), (25.46, -0.85), (25.58, -1.0), (25.72, -0.8), (25.86, -1.5),
            (25.93, -1.1), (26.07, -1.4), (26.21, -1.5), (26.35, -1.2), (26.45, -0.66), (26.54, -0.8),
            (26.63, -1.0), (26.70, -1.2), (26.77, -1.6), (26.85, -1.7), (26.92, -1.2), (26.99, -1.6),
            (27.10, -1.3), (27.20, -1.0), (27.34, -0.9), (27.48, -0.8), (27.62, -0.9), (27.83, -0.8),
            (28.04, -0.9), (28.25, -0.95), (28.46, -1.0), (28.68, -1.05), (28.89, -1.1), (29.03, -1.2),
            (29.17, -1.25), (29.31, -1.4), (29.45, -1.5), (29.59, -1.6), (29.80, -1.75), (30.08, -1.8),
            (30.51, -1.85), (30.93, -1.8), (31.35, -1.75), (31.94, -1.72), (32.48, -1.72), (33.04, -1.7),
            (33.61, -1.68), (33.89, -1.6), (34.06, -1.7), (34.17, -1.6), (34.28, -1.3), (34.38, -1.6),
            (34.52, -1.3), (34.66, -1.2), (34.80, -1.35), (34.94, -1.1), (35.08, -1.2), (35.23, -1.0),
            (35.37, -0.95), (35.51, -0.9), (35.61, -0.8), (35.72, -0.9), (35.83, -0.54), (35.93, -0.8),
            (35.97, -0.4), (36.03, -0.8), (36.14, -0.9), (36.25, -1.2), (36.31, -1.6), (36.39, -1.1),
            (36.49, -1.7), (36.56, -1.55), (36.70, -1.75), (36.99, -1.6), (37.27, -1.65), (37.55, -1.6),
            (37.83, -1.5), (37.97, -1.6), (38.39, -1.6), (38.96, -1.55), (39.52, -1.6), (40.08, -1.55),
            (40.30, -1.6), (40.37, -1.75), (40.58, -1.6), (40.79, -1.65), (40.93, -1.6), (41.21, -1.7),
            (41.63, -1.72), (42.20, -1.7), (42.62, -1.72), (42.90, -1.65), (43.04, -1.75), (43.32, -1.78),
            (43.73, -1.8), (44.15, -1.75), (44.37, -1.7), (44.51, -1.4)]

BLACK, GREEN, PURPLE, RED, BLUE = 'black', '#0a8a0a', '#a020f0', '#ff0000', '#0000ff'

panels = [
    dict(region='Region S', ice=ice_s, lines=[(s2, GREEN), (s3, PURPLE), (s1, BLACK)],
         legend=[('S1', '44/46', BLACK, BLACK), ('S2', '31/37', GREEN, GREEN), ('S3', '45/45', PURPLE, PURPLE)]),
    dict(region='Region W', ice=ice_w, lines=[(w1, BLACK), (w2, GREEN)],
         legend=[('W1', '36/41', BLACK, BLACK), ('W2', '46/50', GREEN, GREEN)]),
    dict(region='Region E', ice=ice_e, lines=[(e1, BLACK), (e4, GREEN)],
         legend=[('E1', '36/40', BLACK, BLACK), ('E4', '43/45', GREEN, GREEN)]),
    dict(region='Region E', ice=sorted(ice_e + ice_e2_blip), lines=[(e2_black, BLACK), (e2_red, RED)],
         legend=[('E2', '25/51', BLACK, RED), ('', '47/51', BLACK, BLACK)]),
    dict(region='Region E', ice=ice_e, lines=[(e3_black, BLACK), (e3_red, RED)],
         legend=[('E3', '32/56', BLACK, RED), ('', '54/56', BLACK, BLACK)]),
]


def unzip(pairs):
    a = np.array(pairs, dtype=float)
    return a[:, 0], a[:, 1]


W, H = 1084, 1270
tops = [79, 308, 537, 766, 995]
PH = 204
fig = plt.figure(figsize=(W / 100, H / 100), dpi=100)
fig.patch.set_facecolor('white')
GRID = '#d4d4d4'

for i, p in enumerate(panels):
    ax = fig.add_axes([93 / W, 1 - (tops[i] + PH) / H, 891 / W, PH / H])
    ax2 = ax.twinx()
    ax.set_zorder(ax2.get_zorder() + 1)
    ax.patch.set_visible(False)

    ax.set_xlim(T_START, T_END)
    ax.set_ylim(-2, 5)
    ax2.set_ylim(0, 100)

    # thin year lines (and Nov lines in the top panel)
    vlines = [12, 24, 36] + ([22, 34] if i == 0 else [])
    for v in vlines:
        ax2.axvline(v, color='#dedede', lw=1, zorder=0)

    t, c = unzip(p['ice'])
    ax2.plot(t, c, color=BLUE, lw=0.9, zorder=3, clip_on=False)
    for series, col in p['lines']:
        t, c = unzip(series)
        ax.plot(t, c, color=col, lw=1.0)

    # spines
    for s in ['top', 'right', 'bottom']:
        ax.spines[s].set_visible(False)
    ax.spines['left'].set_linewidth(2)
    ax2.spines['left'].set_visible(False)
    ax2.spines['bottom'].set_linewidth(2)
    ax2.spines['right'].set_color(BLUE)
    ax2.spines['right'].set_linewidth(2.2)
    if i == 0:
        ax2.spines['top'].set_linewidth(2)
    else:
        ax2.spines['top'].set_visible(False)

    # y axes
    ax.set_yticks(range(-2, 6))
    ax.tick_params(axis='y', length=13, width=1, color='#c8c8c8', labelsize=16, pad=3)
    ax2.set_yticks(range(0, 101, 20))
    ax2.set_yticks(range(10, 100, 20), minor=True)
    ax2.tick_params(axis='y', which='major', length=13, width=1, color='#b0b0ff',
                    labelsize=16, labelcolor=BLUE, pad=31)
    ax2.tick_params(axis='y', which='minor', length=7, width=1, color='#b0b0ff')
    for lab in ax2.get_yticklabels():
        lab.set_horizontalalignment('right')
    ax.set_ylabel(r'$^{\rm o}$C', fontsize=17)
    ax.yaxis.set_label_coords(-0.058, 0.5)
    ax2.set_ylabel('%', fontsize=17, color=BLUE)
    ax2.yaxis.set_label_coords(1.079, 0.5)

    # month ticks drawn by hand
    ax.set_xticks([])
    tr = blended_transform_factory(ax.transData, ax.transAxes)
    for m in range(7, 45):
        # below the panel: every month (longer lines between the bottom labels)
        if i == 4:
            down = 57 / PH if m % 12 == 0 else (19 / PH if m % 2 == 0 else 9 / PH)
        else:
            down = 14 / PH
        ax.plot([m, m], [0, -down], color=GRID, lw=1, transform=tr, clip_on=False)
        # above the panel
        if i == 0:
            up = 57 / PH if m % 12 == 0 else (19 / PH if m % 2 == 0 else 9 / PH)
            ax.plot([m, m], [1, 1 + up], color=GRID, lw=1, transform=tr, clip_on=False)
        elif m % 2 == 0:
            ax.plot([m, m], [1, 1 + 13 / PH], color=GRID, lw=1, transform=tr, clip_on=False)

    # month and year labels on the outer panels
    if i in (0, 4):
        ym, yy = (1 + 29 / PH, 1 + 54 / PH) if i == 0 else (-30 / PH, -54 / PH)
        for m in range(8, 45, 2):
            ax.text(m + 0.5, ym, month_letters[m % 12], transform=tr, ha='center',
                    va='center', fontsize=16)
        for yl, yc in zip(year_labels, year_centers):
            ax.text(yc, yy, yl, transform=tr, ha='center', va='center', fontsize=24)

    # region name and legend
    ax.text(0.128, 2 / 7, p['region'], transform=ax.transAxes, fontsize=19,
            fontweight='bold', va='center', ha='left')
    ltr = blended_transform_factory(ax.transAxes, ax.transData)
    for k, (name, frac, c_name, c_frac) in enumerate(p['legend']):
        yv = 3 - k
        ax.text(0.774, yv, name, transform=ltr, fontsize=19, fontweight='bold',
                color=c_name, va='center', ha='left')
        ax.text(0.912, yv, frac, transform=ltr, fontsize=19, fontweight='bold',
                color=c_frac, va='center', ha='right')

fig.savefig('out.png', dpi=100, facecolor='white')
